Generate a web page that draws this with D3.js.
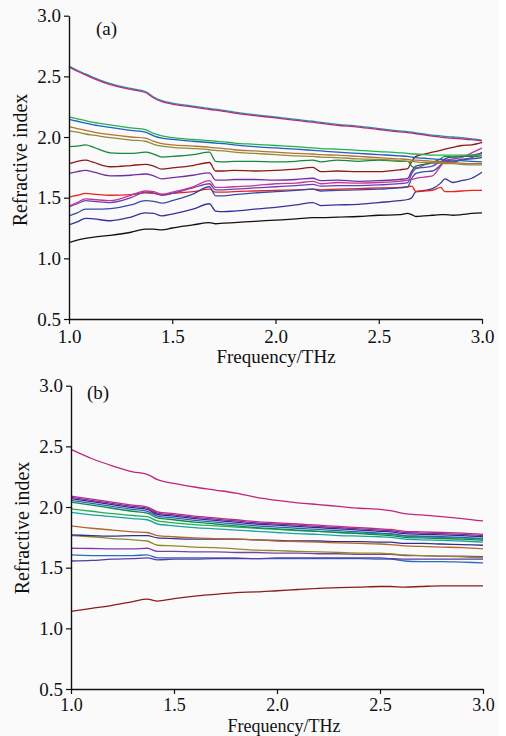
<!DOCTYPE html>
<html lang="en">
<head>
<meta charset="UTF-8">
<title>Refractive index</title>
<script src="https://d3js.org/d3.v7.min.js"></script>
<style>
  body { margin: 0; background: #fff; }
  svg text { font-family: "Liberation Serif", "Times New Roman", Times, "DejaVu Serif", serif !important; fill: #111; }
</style>
</head>
<body>
<svg id="chart" width="506" height="736"></svg>
<script>
// ---- data ----
const freqA = [1.00, 1.04, 1.08, 1.12, 1.20, 1.30, 1.37, 1.41, 1.45, 1.50, 1.60, 1.68, 1.71, 1.75, 1.80, 1.90,
               2.00, 2.10, 2.18, 2.22, 2.30, 2.40, 2.50, 2.60, 2.64, 2.66, 2.68, 2.72, 2.76, 2.80, 2.82, 2.86,
               2.90, 2.95, 3.00];

const curvesA = [
  // black
  [1.13, 1.15, 1.165, 1.175, 1.19, 1.215, 1.24, 1.24, 1.235, 1.25, 1.275, 1.295, 1.285, 1.29, 1.295, 1.305,
   1.315, 1.325, 1.335, 1.335, 1.34, 1.345, 1.355, 1.36, 1.37, 1.36, 1.345, 1.35, 1.355, 1.36, 1.36, 1.355,
   1.36, 1.37, 1.375],
  // blue (lower)
  [1.275, 1.30, 1.33, 1.325, 1.31, 1.34, 1.375, 1.37, 1.35, 1.365, 1.405, 1.45, 1.39, 1.385, 1.39, 1.405,
   1.42, 1.44, 1.46, 1.435, 1.44, 1.445, 1.46, 1.475, 1.485, 1.50, 1.55, 1.56, 1.575, 1.62, 1.655, 1.625,
   1.64, 1.66, 1.71],
  // red
  [1.505, 1.52, 1.535, 1.53, 1.52, 1.525, 1.54, 1.535, 1.525, 1.535, 1.55, 1.57, 1.545, 1.545, 1.55, 1.555,
   1.56, 1.565, 1.57, 1.565, 1.57, 1.575, 1.58, 1.585, 1.59, 1.595, 1.55, 1.555, 1.56, 1.585, 1.55, 1.55,
   1.555, 1.56, 1.56],
  // blue
  [1.35, 1.375, 1.405, 1.405, 1.41, 1.44, 1.475, 1.47, 1.455, 1.475, 1.53, 1.59, 1.515, 1.515, 1.525, 1.54,
   1.55, 1.56, 1.57, 1.555, 1.56, 1.565, 1.57, 1.58, 1.59, 1.66, 1.70, 1.715, 1.72, 1.77, 1.80, 1.795,
   1.81, 1.82, 1.83],
  // violet
  [1.425, 1.45, 1.475, 1.47, 1.46, 1.50, 1.545, 1.54, 1.52, 1.535, 1.58, 1.615, 1.565, 1.565, 1.57, 1.58,
   1.59, 1.60, 1.61, 1.595, 1.60, 1.60, 1.605, 1.615, 1.625, 1.70, 1.74, 1.75, 1.76, 1.80, 1.81, 1.80,
   1.815, 1.83, 1.875],
  // magenta
  [1.43, 1.46, 1.49, 1.485, 1.475, 1.52, 1.555, 1.55, 1.53, 1.545, 1.59, 1.64, 1.585, 1.585, 1.59, 1.60,
   1.615, 1.62, 1.635, 1.615, 1.625, 1.62, 1.625, 1.635, 1.645, 1.65, 1.66, 1.67, 1.68, 1.76, 1.80, 1.82,
   1.83, 1.87, 1.91],
  // purple
  [1.70, 1.715, 1.725, 1.71, 1.68, 1.685, 1.695, 1.68, 1.655, 1.665, 1.685, 1.705, 1.645, 1.645, 1.65, 1.65,
   1.645, 1.65, 1.66, 1.64, 1.645, 1.635, 1.64, 1.65, 1.66, 1.72, 1.76, 1.775, 1.785, 1.79, 1.82, 1.835,
   1.84, 1.85, 1.865],
  // maroon
  [1.78, 1.80, 1.81, 1.79, 1.755, 1.765, 1.775, 1.76, 1.735, 1.745, 1.765, 1.79, 1.72, 1.72, 1.725, 1.72,
   1.725, 1.735, 1.75, 1.715, 1.72, 1.715, 1.715, 1.73, 1.74, 1.80, 1.84, 1.86, 1.875, 1.89, 1.90, 1.915,
   1.93, 1.935, 1.955],
  // dark green
  [1.92, 1.925, 1.935, 1.915, 1.87, 1.865, 1.875, 1.86, 1.835, 1.84, 1.855, 1.875, 1.80, 1.795, 1.80, 1.80,
   1.795, 1.80, 1.81, 1.795, 1.81, 1.80, 1.81, 1.80, 1.80, 1.76, 1.745, 1.77, 1.79, 1.82, 1.84, 1.835,
   1.84, 1.84, 1.845],
  // olive
  [2.05, 2.04, 2.025, 2.015, 1.995, 1.975, 1.965, 1.94, 1.925, 1.915, 1.905, 1.895, 1.89, 1.885, 1.875, 1.865,
   1.855, 1.845, 1.84, 1.835, 1.83, 1.82, 1.815, 1.805, 1.80, 1.80, 1.795, 1.79, 1.79, 1.785, 1.78, 1.78,
   1.775, 1.77, 1.77],
  // brown
  [2.085, 2.07, 2.055, 2.04, 2.02, 2.00, 1.99, 1.965, 1.945, 1.935, 1.925, 1.915, 1.91, 1.905, 1.895, 1.885,
   1.875, 1.865, 1.86, 1.855, 1.85, 1.84, 1.83, 1.82, 1.815, 1.81, 1.81, 1.805, 1.80, 1.795, 1.79, 1.79,
   1.785, 1.78, 1.78],
  // blue
  [2.145, 2.13, 2.115, 2.10, 2.08, 2.055, 2.04, 2.01, 1.99, 1.98, 1.965, 1.955, 1.95, 1.945, 1.935, 1.92,
   1.91, 1.90, 1.89, 1.885, 1.875, 1.865, 1.855, 1.845, 1.84, 1.835, 1.83, 1.825, 1.82, 1.815, 1.81, 1.81,
   1.805, 1.80, 1.795],
  // green
  [2.165, 2.15, 2.135, 2.12, 2.10, 2.075, 2.06, 2.03, 2.01, 1.995, 1.98, 1.97, 1.965, 1.96, 1.95, 1.94,
   1.93, 1.92, 1.91, 1.905, 1.90, 1.89, 1.88, 1.87, 1.865, 1.86, 1.86, 1.855, 1.85, 1.85, 1.85, 1.85,
   1.85, 1.85, 1.85],
  // teal
  [2.585, 2.55, 2.52, 2.49, 2.44, 2.40, 2.375, 2.33, 2.30, 2.28, 2.255, 2.235, 2.23, 2.22, 2.205, 2.185,
   2.165, 2.145, 2.13, 2.12, 2.105, 2.09, 2.07, 2.05, 2.045, 2.04, 2.035, 2.025, 2.015, 2.01, 2.005, 2.0,
   1.995, 1.985, 1.975],
  // magenta
  [2.578, 2.542, 2.512, 2.482, 2.432, 2.392, 2.367, 2.322, 2.292, 2.272, 2.247, 2.227, 2.222, 2.212, 2.197, 2.177,
   2.157, 2.137, 2.122, 2.112, 2.097, 2.082, 2.062, 2.042, 2.037, 2.032, 2.027, 2.017, 2.007, 2.0, 1.995, 1.99,
   1.985, 1.978, 1.968]
];
const colorsA = ["#111111", "#33339a", "#e8231f", "#3a4aa8", "#6a3fb0", "#c0389a", "#7030a0", "#8b1a1a",
                 "#17873f", "#8c8c3a", "#b8702c", "#1f5fbf", "#22b14c", "#1a9ca8", "#c0267f"];

const freqB = [1.00, 1.10, 1.20, 1.30, 1.37, 1.42, 1.50, 1.60, 1.70, 1.80, 1.90, 2.00, 2.10, 2.20, 2.30, 2.40,
               2.50, 2.55, 2.62, 2.70, 2.80, 2.90, 3.00];

const curvesB = [
  // dark red
  [1.14, 1.165, 1.19, 1.22, 1.24, 1.225, 1.245, 1.265, 1.28, 1.295, 1.30, 1.31, 1.32, 1.33, 1.335, 1.34,
   1.345, 1.345, 1.34, 1.345, 1.35, 1.35, 1.35],
  // blue
  [1.605, 1.60, 1.60, 1.60, 1.605, 1.58, 1.58, 1.58, 1.58, 1.58, 1.575, 1.575, 1.575, 1.575, 1.575, 1.575,
   1.57, 1.57, 1.555, 1.55, 1.55, 1.545, 1.54],
  // violet
  [1.555, 1.56, 1.57, 1.575, 1.58, 1.565, 1.57, 1.57, 1.575, 1.575, 1.575, 1.58, 1.58, 1.58, 1.58, 1.58,
   1.58, 1.575, 1.57, 1.57, 1.57, 1.57, 1.57],
  // purple
  [1.66, 1.658, 1.655, 1.655, 1.66, 1.635, 1.635, 1.63, 1.63, 1.625, 1.625, 1.62, 1.62, 1.615, 1.615, 1.61,
   1.61, 1.61, 1.60, 1.60, 1.595, 1.595, 1.59],
  // olive
  [1.765, 1.755, 1.74, 1.73, 1.72, 1.685, 1.68, 1.67, 1.665, 1.655, 1.645, 1.64, 1.635, 1.63, 1.625, 1.62,
   1.62, 1.615, 1.605, 1.60, 1.595, 1.59, 1.58],
  // navy
  [1.77, 1.765, 1.76, 1.765, 1.765, 1.745, 1.74, 1.735, 1.735, 1.735, 1.73, 1.725, 1.72, 1.72, 1.715, 1.715,
   1.71, 1.71, 1.70, 1.70, 1.695, 1.69, 1.685],
  // brown
  [1.845, 1.825, 1.81, 1.795, 1.79, 1.765, 1.755, 1.745, 1.74, 1.735, 1.73, 1.72, 1.715, 1.71, 1.705, 1.70,
   1.695, 1.69, 1.68, 1.675, 1.67, 1.665, 1.655],
  // teal
  [1.955, 1.935, 1.92, 1.905, 1.895, 1.86, 1.845, 1.83, 1.82, 1.81, 1.80, 1.79, 1.78, 1.775, 1.765, 1.76,
   1.755, 1.75, 1.735, 1.73, 1.725, 1.72, 1.71],
  // green
  [1.985, 1.965, 1.945, 1.93, 1.92, 1.885, 1.87, 1.855, 1.845, 1.835, 1.825, 1.815, 1.805, 1.80, 1.79, 1.785,
   1.78, 1.775, 1.76, 1.755, 1.75, 1.745, 1.735],
  // dark green
  [2.04, 2.015, 1.99, 1.965, 1.95, 1.91, 1.895, 1.875, 1.86, 1.845, 1.83, 1.82, 1.81, 1.80, 1.79, 1.78,
   1.77, 1.765, 1.75, 1.745, 1.74, 1.735, 1.725],
  // blue
  [2.055, 2.03, 2.005, 1.98, 1.965, 1.925, 1.91, 1.89, 1.875, 1.86, 1.845, 1.835, 1.825, 1.815, 1.805, 1.795,
   1.785, 1.78, 1.765, 1.76, 1.755, 1.75, 1.74],
  // navy
  [2.07, 2.045, 2.02, 1.995, 1.98, 1.94, 1.925, 1.905, 1.89, 1.875, 1.86, 1.85, 1.84, 1.83, 1.82, 1.81,
   1.80, 1.795, 1.78, 1.775, 1.77, 1.765, 1.755],
  // purple
  [2.08, 2.055, 2.03, 2.005, 1.99, 1.95, 1.935, 1.915, 1.90, 1.885, 1.87, 1.86, 1.85, 1.84, 1.83, 1.82,
   1.81, 1.805, 1.79, 1.785, 1.78, 1.775, 1.765],
  // magenta
  [2.09, 2.065, 2.04, 2.015, 2.00, 1.96, 1.945, 1.925, 1.91, 1.895, 1.88, 1.87, 1.86, 1.85, 1.84, 1.83,
   1.82, 1.815, 1.80, 1.795, 1.79, 1.785, 1.775],
  // magenta (top)
  [2.475, 2.40, 2.34, 2.29, 2.27, 2.225, 2.195, 2.165, 2.14, 2.115, 2.08, 2.055, 2.035, 2.02, 2.005, 1.99,
   1.98, 1.97, 1.945, 1.935, 1.92, 1.905, 1.885]
];
const colorsB = ["#8b1c1c", "#2a6cc0", "#5a3aa8", "#7b3fa8", "#8c8c2a", "#30308f", "#b5662a", "#1ba1a6",
                 "#22b14c", "#0f8a4a", "#2664b8", "#2a2a8a", "#7a2f9a", "#c02a8a", "#c0267f"];

const xTicks = [1.0, 1.5, 2.0, 2.5, 3.0];
const yTicks = [0.5, 1.0, 1.5, 2.0, 2.5, 3.0];

const serif = "'Liberation Serif', 'Times New Roman', Times, 'DejaVu Serif', serif";

// ---- drawing ----
const svg = d3.select("#chart");
svg.append("rect").attr("width", 498).attr("height", 736).attr("fill", "#fafafa");

function panel(opts) {
  const { freq, curves, colors, x0, x1, yTop, yBot, tag, tagX, tagY,
          yLabX, yLabY, xLabX, xLabY, labSize, xTickSize, xTickPad } = opts;

  const x = d3.scaleLinear().domain([1, 3]).range([x0, x1]);
  const y = d3.scaleLinear().domain([0.5, 3]).range([yBot, yTop]);
  const g = svg.append("g");

  const line = d3.line()
    .x((d, i) => x(freq[i]))
    .y(d => y(d))
    .curve(d3.curveMonotoneX);

  g.selectAll("path.curve")
    .data(curves)
    .join("path")
    .attr("class", "curve")
    .attr("d", line)
    .attr("fill", "none")
    .attr("stroke", (d, i) => colors[i])
    .attr("stroke-width", 1.3);

  const xAxis = g.append("g")
    .attr("transform", `translate(0,${yBot})`)
    .call(d3.axisBottom(x).tickValues(xTicks).tickFormat(d3.format(".1f"))
      .tickSize(5).tickSizeOuter(0).tickPadding(xTickPad));
  const yAxis = g.append("g")
    .attr("transform", `translate(${x0},0)`)
    .call(d3.axisLeft(y).tickValues(yTicks).tickFormat(d3.format(".1f"))
      .tickSize(5).tickSizeOuter(0).tickPadding(3));

  [xAxis, yAxis].forEach(a => {
    a.attr("font-family", serif);
    a.select(".domain").attr("stroke", "#111").attr("stroke-width", 1.4);
    a.selectAll(".tick line").attr("stroke", "#111").attr("stroke-width", 1.2);
    a.selectAll(".tick text").attr("font-size", "19px").attr("fill", "#111");
  });
  xAxis.selectAll(".tick text").attr("font-size", xTickSize + "px");

  g.append("text")
    .attr("x", tagX).attr("y", tagY)
    .attr("font-family", serif)
    .attr("font-size", "19px")
    .text(tag);

  g.append("text")
    .attr("transform", `translate(${yLabX},${yLabY}) rotate(-90)`)
    .attr("text-anchor", "middle")
    .attr("font-family", serif)
    .attr("font-size", "20px")
    .text("Refractive index");

  g.append("text")
    .attr("x", xLabX).attr("y", xLabY)
    .attr("text-anchor", "middle")
    .attr("font-family", serif)
    .attr("font-size", labSize + "px")
    .text("Frequency/THz");
}

panel({ freq: freqA, curves: curvesA, colors: colorsA, x0: 69, x1: 482, yTop: 15.7, yBot: 319,
        tag: "(a)", tagX: 96, tagY: 35, yLabX: 27, yLabY: 160, xLabX: 276, xLabY: 363,
        labSize: 19, xTickSize: 19, xTickPad: 6 });

panel({ freq: freqB, curves: curvesB, colors: colorsB, x0: 71, x1: 483, yTop: 385.7, yBot: 689,
        tag: "(b)", tagX: 87, tagY: 399, yLabX: 29, yLabY: 528, xLabX: 284, xLabY: 732,
        labSize: 18, xTickSize: 18, xTickPad: 4 });
</script>
</body>
</html>
